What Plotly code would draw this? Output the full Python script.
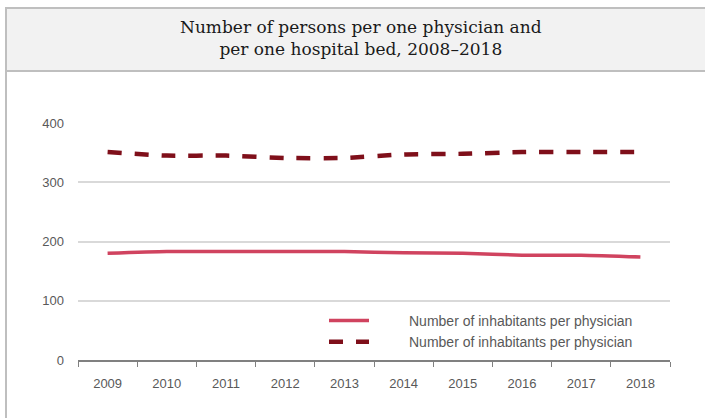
import plotly.graph_objects as go

years = ["2009", "2010", "2011", "2012", "2013", "2014", "2015", "2016", "2017", "2018"]
per_physician = [180, 183, 183, 183, 183, 181, 180, 177, 177, 174]
per_bed = [351, 345, 345, 341, 341, 347, 348, 351, 351, 351]
series_names = ["Number of inhabitants per physician", "Number of inhabitants per physician"]
title_text = "Number of persons per one physician and<br>per one hospital bed, 2008–2018"

W, H = 705, 418
L, R, T, B = 78, 35, 123, 58
pw, ph = W - L - R, H - T - B

def px(x):
    return (x - L) / pw

def py(y):
    return (H - B - y) / ph

pad = "\u00a0" * 9

fig = go.Figure()
fig.add_trace(go.Scatter(x=years, y=per_physician, mode="lines", name=pad + series_names[0],
                         line=dict(color="#d0435f", width=3.5, shape="spline", smoothing=0.6)))
fig.add_trace(go.Scatter(x=years, y=per_bed, mode="lines", name=pad + series_names[1],
                         line=dict(color="#7f0f1a", width=4.5, dash="14px,13px", shape="spline", smoothing=0.6)))

shapes = [
    dict(type="rect", xref="paper", yref="paper", x0=px(6), x1=px(712), y0=py(8), y1=py(425),
         line=dict(color="#bfbfbf", width=2), fillcolor="rgba(0,0,0,0)", layer="below"),
    dict(type="rect", xref="paper", yref="paper", x0=px(6), x1=px(712), y0=py(8), y1=py(71),
         line=dict(color="#bfbfbf", width=2), fillcolor="#f2f2f2", layer="below"),
]

fig.update_layout(
    width=W, height=H,
    margin=dict(l=L, r=R, t=T, b=B),
    paper_bgcolor="white", plot_bgcolor="white",
    shapes=shapes,
    annotations=[dict(text=title_text, xref="paper", yref="paper", x=px(361), y=py(38),
                      xanchor="center", yanchor="middle", showarrow=False,
                      font=dict(family="DejaVu Serif", size=17, color="#1a1a1a"))],
    xaxis=dict(type="category", showgrid=False, showline=True, linecolor="#808080", linewidth=2,
               ticks="outside", tickson="boundaries", ticklen=5, tickcolor="#808080",
               ticklabelstandoff=10,
               tickfont=dict(family="Liberation Sans", size=13, color="#595959"),
               range=[-0.5, 9.5]),
    yaxis=dict(range=[0, 400], dtick=100, showgrid=True, gridcolor="#d9d9d9", gridwidth=2,
               zeroline=False, showline=False, ticks="", ticklabelstandoff=13,
               tickfont=dict(family="Liberation Sans", size=13, color="#595959")),
    legend=dict(x=px(324), y=py(305), xanchor="left", yanchor="top", bgcolor="rgba(0,0,0,0)",
                font=dict(family="Liberation Sans", size=14, color="#595959"),
                itemwidth=40),
    showlegend=True,
)

fig.write_html("out.html", config={"displayModeBar": False},
               post_script="document.body.style.margin='0';document.body.style.padding='0';")
